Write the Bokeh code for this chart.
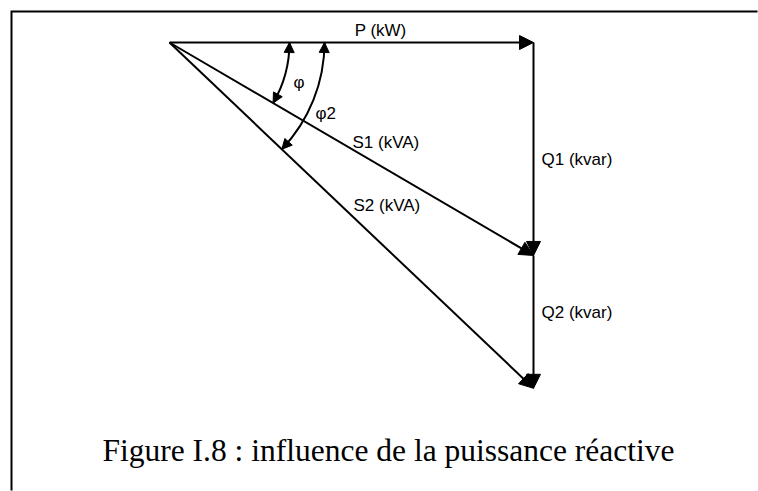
import numpy as np
from bokeh.plotting import figure
from bokeh.models import Arrow, NormalHead, Range1d
from bokeh.core.properties import value
from bokeh.embed import file_html
from bokeh.resources import INLINE

# ---- data (power triangle, arbitrary units: P = 100) ----
vector_names = ["P (kW)", "Q1 (kvar)", "Q2 (kvar)", "S1 (kVA)", "S2 (kVA)"]
P = 100.0        # active power
Q1 = 58.5        # reactive power, state 1
Q2 = 36.5        # additional reactive power, state 2
angle_labels = ["φ", "φ2"]
caption = "Figure I.8 : influence de la puissance réactive"

# ---- layout ----
W, H = 758, 491
S = 3.64               # pixels per unit
ox, oy = 169, 42       # origin position inside the frame (pixels)
p = figure(width=W, height=H, output_backend="svg", toolbar_location=None,
           x_range=Range1d(-ox / S, (W - ox) / S),
           y_range=Range1d(-(H - oy) / S, oy / S),
           min_border=0)
p.axis.visible = False
p.grid.visible = False
p.outline_line_color = None
p.background_fill_color = "white"
p.border_fill_color = "white"

def px(dx):
    return dx / S

# frame of the figure box (top and left edges visible, rest cropped)
bx = -ox / S + px(11)
by = oy / S - px(11)
p.line(x=[bx, bx, (W - ox) / S - px(1)], y=[-(H - oy) / S + px(1), by, by],
       line_color="black", line_width=2, line_join="miter")

# vertices
O = (0.0, 0.0)
A = (P, 0.0)
B = (P, -Q1)
C = (P, -(Q1 + Q2))

def vec(a, b, size=14):
    p.add_layout(Arrow(x_start=a[0], y_start=a[1], x_end=b[0], y_end=b[1],
                       line_color="black", line_width=2,
                       end=NormalHead(size=size, fill_color="black",
                                      line_color="black", line_width=1)))

vec(O, A)
vec(A, B)
vec(B, C)
vec(O, B)
vec(O, C)

# angle arcs with arrow heads on both ends
phi1 = np.arctan2(Q1, P)
phi2 = np.arctan2(Q1 + Q2, P)

def angle_arc(r, phi):
    p.arc(x=0, y=0, radius=r, start_angle=-phi, end_angle=0,
          line_color="black", line_width=2)
    d = 0.06
    a0 = -d
    p.add_layout(Arrow(x_start=r * np.cos(a0), y_start=r * np.sin(a0),
                       x_end=r, y_end=0.0, line_color="black", line_width=2,
                       end=NormalHead(size=10, fill_color="black",
                                      line_color="black", line_width=1)))
    a1 = -phi + d
    p.add_layout(Arrow(x_start=r * np.cos(a1), y_start=r * np.sin(a1),
                       x_end=r * np.cos(-phi), y_end=r * np.sin(-phi),
                       line_color="black", line_width=2,
                       end=NormalHead(size=10, fill_color="black",
                                      line_color="black", line_width=1)))

angle_arc(px(120), phi1)
angle_arc(px(155), phi2)

sans = value("Liberation Sans")
fs = "17px"

# labels
p.text(x=[P * 0.58], y=[px(3)], text=[vector_names[0]], text_font=sans,
       text_font_size=fs, text_align="center", text_baseline="bottom",
       text_color="black")
p.text(x=[P + px(8), P + px(8)], y=[-Q1 / 2 - px(11), -Q1 - Q2 / 2 + px(9)],
       text=[vector_names[1], vector_names[2]], text_font=sans,
       text_font_size=fs, text_align="left", text_baseline="middle",
       text_color="black")
p.text(x=[px(183), px(184)], y=[-px(100), -px(163)],
       text=[vector_names[3], vector_names[4]], text_font=sans,
       text_font_size=fs, text_align="left", text_baseline="middle",
       text_color="black")
p.text(x=[px(124), px(146)], y=[-px(40), -px(71)],
       text=angle_labels, text_font=sans,
       text_font_size=fs, text_align="left", text_baseline="middle",
       text_color="black")

# caption
p.text(x=[px(219)], y=[-px(408)], text=[caption],
       text_font=value("Liberation Serif"), text_font_size="31.5px",
       text_align="center", text_baseline="alphabetic", text_color="black")

open("out.html", "w").write(file_html(p, INLINE))
